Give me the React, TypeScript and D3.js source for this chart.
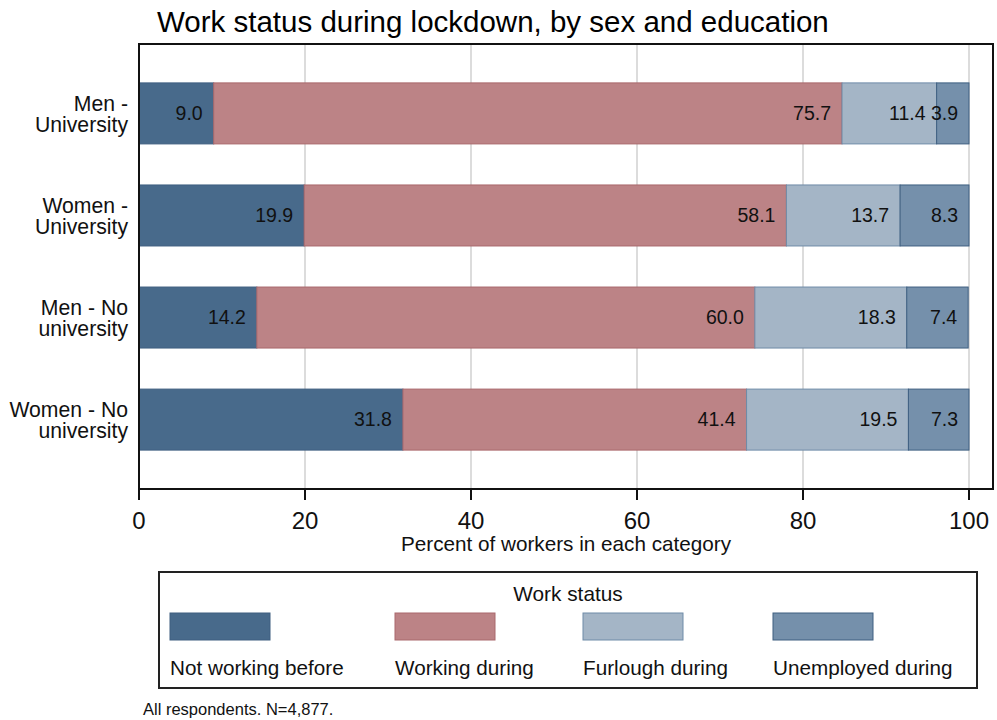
import React from "react";
import * as d3 from "d3";

const categories = ["Men - University", "Women - University", "Men - No university", "Women - No university"];
const categoryLines = [["Men -", "University"], ["Women -", "University"], ["Men - No", "university"], ["Women - No", "university"]];
const seriesNames = ["Not working before", "Working during", "Furlough during", "Unemployed during"];
const notWorkingBefore = [9.0, 19.9, 14.2, 31.8];
const workingDuring = [75.7, 58.1, 60.0, 41.4];
const furloughDuring = [11.4, 13.7, 18.3, 19.5];
const unemployedDuring = [3.9, 8.3, 7.4, 7.3];
const xTicks = [0, 20, 40, 60, 80, 100];
const colors = ["#486A8B", "#BC8386", "#A4B5C6", "#7590AB"];
const strokes = ["#3E5F80", "#A9686C", "#6F8BA8", "#3E5F80"];

const W = 997, H = 720;
const FONT = "'Liberation Sans', Arial, sans-serif";

export default function App() {
  const series = [notWorkingBefore, workingDuring, furloughDuring, unemployedDuring];
  const x = d3.scaleLinear().domain([0, 100]).range([139, 969]);
  const y = d3.scalePoint<string>().domain(categories).range([44, 489]).padding(0.68);
  const barH = 61;
  const frame = { left: 139, top: 44, right: 993, bottom: 489 };

  const rows = categories.map((c, i) => {
    const vals = series.map(s => s[i]);
    const stack: { x0: number; x1: number; v: number; k: number }[] = [];
    let acc = 0;
    vals.forEach((v, k) => {
      stack.push({ x0: acc, x1: acc + v, v, k });
      acc += v;
    });
    return { c, i, stack };
  });

  const legendX = [170, 395, 583, 773];

  return (
    <svg width={W} height={H} style={{ position: "absolute", left: 0, top: 0, background: "#fff" }} fontFamily={FONT}>
      <rect x={0} y={0} width={W} height={H} fill="#fff" />
      <text x={157} y={32} fontSize={29.5} fill="#000">Work status during lockdown, by sex and education</text>

      {/* grid */}
      {xTicks.filter(t => t > 0).map(t => (
        <line key={t} x1={x(t)} x2={x(t)} y1={frame.top} y2={frame.bottom} stroke="#DCDCDC" strokeWidth={2} />
      ))}

      {/* bars */}
      {rows.map(r => {
        const cy = y(r.c)!;
        return (
          <g key={r.c}>
            {r.stack.map(s => (
              <rect key={s.k} x={x(s.x0)} y={cy - barH / 2} width={x(s.x1) - x(s.x0)} height={barH}
                fill={colors[s.k]} stroke={strokes[s.k]} strokeWidth={1} />
            ))}
            {r.stack.map(s => (
              <text key={"t" + s.k} x={x(s.x1) - 11} y={cy} dy="0.35em" textAnchor="end" fontSize={19.5} fill="#111">
                {d3.format(".1f")(s.v)}
              </text>
            ))}
            {categoryLines[r.i].map((ln, j) => (
              <text key={"c" + j} x={128} y={cy - 10 + j * 21} dy="0.35em" textAnchor="end" fontSize={21.2} fill="#111">{ln}</text>
            ))}
          </g>
        );
      })}

      {/* frame */}
      <rect x={frame.left} y={frame.top} width={frame.right - frame.left} height={frame.bottom - frame.top}
        fill="none" stroke="#111" strokeWidth={2} />

      {/* x ticks */}
      {xTicks.map(t => (
        <g key={t}>
          <line x1={x(t)} x2={x(t)} y1={frame.bottom} y2={frame.bottom + 11} stroke="#111" strokeWidth={2} />
          <text x={x(t)} y={529} textAnchor="middle" fontSize={24} fill="#111">{t}</text>
        </g>
      ))}
      <text x={(frame.left + frame.right) / 2} y={551} textAnchor="middle" fontSize={20.7} fill="#111">Percent of workers in each category</text>

      {/* legend */}
      <rect x={159} y={572} width={818} height={116} fill="#fff" stroke="#222" strokeWidth={2} />
      <text x={568} y={601} textAnchor="middle" fontSize={20.8} fill="#111">Work status</text>
      {seriesNames.map((n, k) => (
        <g key={n}>
          <rect x={legendX[k]} y={613} width={100} height={27} fill={colors[k]} stroke={strokes[k]} strokeWidth={1} />
          <text x={legendX[k]} y={675} fontSize={20.7} fill="#111">{n}</text>
        </g>
      ))}

      <text x={143} y={715} fontSize={16.5} fill="#111">All respondents. N=4,877.</text>
    </svg>
  );
}
